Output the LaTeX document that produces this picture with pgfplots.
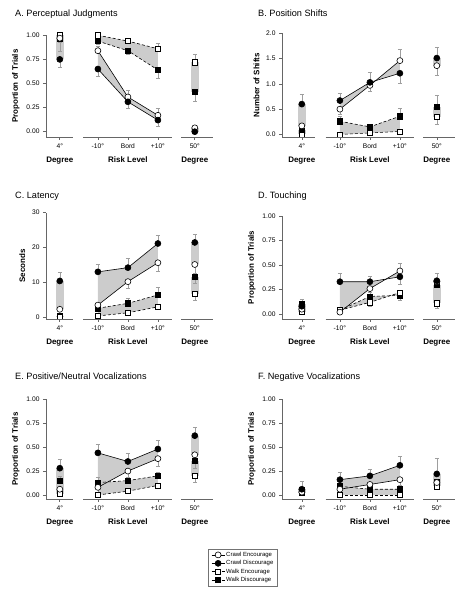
\documentclass[border=0pt]{standalone}
\usepackage{fontspec}
\setmainfont{Liberation Sans}
\usepackage{pgfplots}
\pgfplotsset{compat=1.18}
\definecolor{bandgray}{gray}{0.80}
\definecolor{ebgray}{gray}{0.62}
\definecolor{axgray}{gray}{0.40}
\newcommand\tickfont{\fontsize{6.7}{7.5}\selectfont}
\newcommand\labfont{\fontsize{8}{9}\selectfont\bfseries}
\newcommand\titfont{\fontsize{9.2}{10}\selectfont}
\newcommand\legfont{\fontsize{6}{7}\selectfont}
\pgfplotsset{
 panel/.style={
  scale only axis, clip=false,
  axis lines=left, axis line style={-, axgray, line width=0.8bp},
  x axis line style={draw=none},
  xmin=-0.73, xmax=4.85,
  xtick={-0.27,1,2,3,4.23},
  xticklabels={4°,-10°,Bord,+10°,50°},
  tick align=outside, major tick length=3bp,
  every tick/.style={axgray, line width=0.6bp},
  tick label style={font=\tickfont},
  /pgf/number format/assume math mode=true,
  ylabel style={font=\labfont},
  after end axis/.code={
    \draw[axgray, line width=0.8bp] (rel axis cs:0,0) -- ({axis cs:0.18,0}|-{rel axis cs:0,0});
    \draw[axgray, line width=0.8bp] ({axis cs:0.52,0}|-{rel axis cs:0,0}) -- ({axis cs:3.47,0}|-{rel axis cs:0,0});
    \draw[axgray, line width=0.8bp] ({axis cs:3.78,0}|-{rel axis cs:0,0}) -- (rel axis cs:1,0);
    \node[font=\labfont, anchor=base, inner sep=0] at ({axis cs:-0.27,0}|-{rel axis cs:0,0}) [yshift=-26bp] {Degree};
    \node[font=\labfont, anchor=base, inner sep=0] at ({axis cs:2,0}|-{rel axis cs:0,0}) [yshift=-26bp] {Risk Level};
    \node[font=\labfont, anchor=base, inner sep=0] at ({axis cs:4.23,0}|-{rel axis cs:0,0}) [yshift=-26bp] {Degree};
  },
 },
 panelR/.style={panel, xmin=-0.93},
 band/.style={fill=bandgray, draw=none},
 eb/.style={error bars/y dir=both, error bars/y explicit,
   error bars/error bar style={ebgray, line width=0.5bp, solid},
   error bars/error mark options={ebgray, line width=0.5bp, mark size=2bp, rotate=90, solid}},
 ce/.style={black, line width=0.6bp, solid, mark=*, mark size=3bp, mark options={fill=white, solid, line width=0.6bp}},
 cd/.style={black, line width=0.6bp, solid, mark=*, mark size=3bp, mark options={fill=black, solid, line width=0.6bp}},
 we/.style={black, line width=0.6bp, dash pattern=on 3bp off 2bp, mark=square*, mark size=2.6bp, mark options={fill=white, solid, line width=0.6bp}},
 wd/.style={black, line width=0.6bp, dash pattern=on 3bp off 2bp, mark=square*, mark size=2.6bp, mark options={fill=black, solid, line width=0.6bp}},
}
\begin{document}
\begin{tikzpicture}
\path[use as bounding box] (0,0) rectangle (464bp,599bp);

% ================= A =================
\begin{axis}[panel, at={(46bp,462bp)}, anchor=south west, width=167.4bp, height=101.7bp,
  ymin=-0.055, ymax=1, ytick={0,0.25,0.5,0.75,1},
  yticklabel style={/pgf/number format/.cd, fixed, fixed zerofill, precision=2},
  ylabel={Proportion of Trials}]
\addplot[band] coordinates {(1,0.84) (2,0.36) (3,0.17) (3,0.12) (2,0.31) (1,0.65)};
\addplot[band] coordinates {(1,1.00) (2,0.94) (3,0.86) (3,0.64) (2,0.84) (1,0.94)};
\addplot[band] coordinates {(-0.40,0.75) (-0.14,0.75) (-0.14,0.97) (-0.40,0.97)};
\addplot[band] coordinates {(-0.40,0.96) (-0.14,0.96) (-0.14,1.00) (-0.40,1.00)};
\addplot[band] coordinates {(4.10,0.00) (4.36,0.00) (4.36,0.04) (4.10,0.04)};
\addplot[band] coordinates {(4.10,0.41) (4.36,0.41) (4.36,0.72) (4.10,0.72)};
\addplot[wd, eb] coordinates {(1,0.94) += (0,0) -= (0,0.03) (2,0.84) += (0,0) -= (0,0.04) (3,0.64) += (0,0) -= (0,0.09)};
\addplot[wd, eb, only marks] coordinates {(-0.27,0.96) += (0,0) -= (0,0.03) (4.23,0.41) += (0,0) -= (0,0.09)};
\addplot[we, eb] coordinates {(1,1.00) += (0,0) -= (0,0) (2,0.94) += (0,0.02) -= (0,0) (3,0.86) += (0,0.06) -= (0,0)};
\addplot[we, eb, only marks] coordinates {(-0.27,1.00) += (0,0) -= (0,0) (4.23,0.72) += (0,0.08) -= (0,0)};
\addplot[ce, eb] coordinates {(1,0.84) += (0,0.05) -= (0,0) (2,0.36) += (0,0.07) -= (0,0) (3,0.17) += (0,0.07) -= (0,0)};
\addplot[ce, eb, only marks] coordinates {(-0.27,0.97) += (0,0) -= (0,0.14) (4.23,0.04) += (0,0.03) -= (0,0)};
\addplot[cd, eb] coordinates {(1,0.65) += (0,0) -= (0,0.08) (2,0.31) += (0,0) -= (0,0.07) (3,0.12) += (0,0) -= (0,0.06)};
\addplot[cd, eb, only marks] coordinates {(-0.27,0.75) += (0,0) -= (0,0.08) (4.23,0.00) += (0,0) -= (0,0)};
\end{axis}

% ================= B =================
\begin{axis}[panelR, at={(282bp,462bp)}, anchor=south west, width=173.4bp, height=103.7bp,
  ymin=-0.05, ymax=2, ytick={0,0.5,1,1.5,2},
  yticklabel style={/pgf/number format/.cd, fixed, fixed zerofill, precision=1},
  ylabel={Number of Shifts}]
\addplot[band] coordinates {(1,0.50) (2,0.97) (3,1.46) (3,1.21) (2,1.03) (1,0.67)};
\addplot[band] coordinates {(1,0.00) (2,0.03) (3,0.06) (3,0.36) (2,0.15) (1,0.26)};
\addplot[band] coordinates {(-0.40,0.17) (-0.14,0.17) (-0.14,0.60) (-0.40,0.60)};
\addplot[band] coordinates {(-0.40,0.00) (-0.14,0.00) (-0.14,0.08) (-0.40,0.08)};
\addplot[band] coordinates {(4.10,1.36) (4.36,1.36) (4.36,1.51) (4.10,1.51)};
\addplot[band] coordinates {(4.10,0.35) (4.36,0.35) (4.36,0.54) (4.10,0.54)};
\addplot[wd, eb] coordinates {(1,0.26) += (0,0.10) -= (0,0) (2,0.15) += (0,0.06) -= (0,0) (3,0.36) += (0,0.16) -= (0,0)};
\addplot[wd, eb, only marks] coordinates {(-0.27,0.08) += (0,0.04) -= (0,0) (4.23,0.54) += (0,0.23) -= (0,0)};
\addplot[we, eb] coordinates {(1,0.00) += (0,0) -= (0,0) (2,0.03) += (0,0) -= (0,0) (3,0.06) += (0,0) -= (0,0)};
\addplot[we, eb, only marks] coordinates {(-0.27,0.00) += (0,0) -= (0,0) (4.23,0.35) += (0,0) -= (0,0.15)};
\addplot[ce, eb] coordinates {(1,0.50) += (0,0) -= (0,0.10) (2,0.97) += (0,0) -= (0,0.12) (3,1.46) += (0,0.22) -= (0,0)};
\addplot[ce, eb, only marks] coordinates {(-0.27,0.17) += (0,0) -= (0,0.08) (4.23,1.36) += (0,0) -= (0,0.19)};
\addplot[cd, eb] coordinates {(1,0.67) += (0,0.14) -= (0,0) (2,1.03) += (0,0.20) -= (0,0) (3,1.21) += (0,0) -= (0,0.19)};
\addplot[cd, eb, only marks] coordinates {(-0.27,0.60) += (0,0.20) -= (0,0) (4.23,1.51) += (0,0.21) -= (0,0)};
\end{axis}

% ================= C =================
\begin{axis}[panel, at={(46bp,280bp)}, anchor=south west, width=167.4bp, height=106.3bp,
  ymin=-0.37, ymax=30, ytick={0,10,20,30},
  ylabel={Seconds}]
\addplot[band] coordinates {(1,3.6) (2,10.3) (3,15.7) (3,21.2) (2,14.3) (1,13.1)};
\addplot[band] coordinates {(1,0.5) (2,1.4) (3,3.1) (3,6.5) (2,4.1) (1,2.7)};
\addplot[band] coordinates {(-0.40,2.4) (-0.14,2.4) (-0.14,10.5) (-0.40,10.5)};
\addplot[band] coordinates {(-0.40,0.3) (-0.14,0.3) (-0.14,0.6) (-0.40,0.6)};
\addplot[band] coordinates {(4.10,15.2) (4.36,15.2) (4.36,21.5) (4.10,21.5)};
\addplot[band] coordinates {(4.10,6.8) (4.36,6.8) (4.36,11.7) (4.10,11.7)};
\addplot[wd, eb] coordinates {(1,2.7) += (0,1.0) -= (0,0) (2,4.1) += (0,1.5) -= (0,0) (3,6.5) += (0,2.1) -= (0,0)};
\addplot[wd, eb, only marks] coordinates {(-0.27,0.6) += (0,0) -= (0,0) (4.23,11.7) += (0,0) -= (0,2.0)};
\addplot[we, eb] coordinates {(1,0.5) += (0,0) -= (0,0) (2,1.4) += (0,0) -= (0,0) (3,3.1) += (0,0) -= (0,0.6)};
\addplot[we, eb, only marks] coordinates {(-0.27,0.3) += (0,0) -= (0,0) (4.23,6.8) += (0,0) -= (0,1.8)};
\addplot[ce, eb] coordinates {(1,3.6) += (0,0) -= (0,0.8) (2,10.3) += (0,0) -= (0,1.9) (3,15.7) += (0,0) -= (0,2.3)};
\addplot[ce, eb, only marks] coordinates {(-0.27,2.4) += (0,0) -= (0,0) (4.23,15.2) += (0,0) -= (0,2.5)};
\addplot[cd, eb] coordinates {(1,13.1) += (0,2.3) -= (0,0) (2,14.3) += (0,2.6) -= (0,0) (3,21.2) += (0,2.3) -= (0,0)};
\addplot[cd, eb, only marks] coordinates {(-0.27,10.5) += (0,2.6) -= (0,0) (4.23,21.5) += (0,2.2) -= (0,0)};
\end{axis}

% ================= D =================
\begin{axis}[panelR, at={(282bp,280bp)}, anchor=south west, width=173.4bp, height=103bp,
  ymin=-0.05, ymax=1, ytick={0,0.25,0.5,0.75,1},
  yticklabel style={/pgf/number format/.cd, fixed, fixed zerofill, precision=2},
  ylabel={Proportion of Trials}]
\addplot[band] coordinates {(1,0.02) (2,0.26) (3,0.44) (3,0.38) (2,0.33) (1,0.33)};
\addplot[band] coordinates {(1,0.04) (2,0.12) (3,0.22) (3,0.19) (2,0.18) (1,0.04)};
\addplot[band] coordinates {(-0.40,0.05) (-0.14,0.05) (-0.14,0.08) (-0.40,0.08)};
\addplot[band] coordinates {(-0.40,0.02) (-0.14,0.02) (-0.14,0.10) (-0.40,0.10)};
\addplot[band] coordinates {(4.10,0.33) (4.36,0.33) (4.36,0.34) (4.10,0.34)};
\addplot[band] coordinates {(4.10,0.11) (4.36,0.11) (4.36,0.30) (4.10,0.30)};
\addplot[wd, eb] coordinates {(1,0.04) += (0,0) -= (0,0) (2,0.18) += (0,0.04) -= (0,0) (3,0.19) += (0,0) -= (0,0.05)};
\addplot[wd, eb, only marks] coordinates {(-0.27,0.10) += (0,0.05) -= (0,0) (4.23,0.30) += (0,0) -= (0,0)};
\addplot[we, eb] coordinates {(1,0.04) += (0,0) -= (0,0) (2,0.12) += (0,0) -= (0,0.04) (3,0.22) += (0,0) -= (0,0)};
\addplot[we, eb, only marks] coordinates {(-0.27,0.02) += (0,0) -= (0,0) (4.23,0.11) += (0,0) -= (0,0.05)};
\addplot[ce, eb] coordinates {(1,0.02) += (0,0) -= (0,0) (2,0.26) += (0,0) -= (0,0.08) (3,0.44) += (0,0.08) -= (0,0)};
\addplot[ce, eb, only marks] coordinates {(-0.27,0.05) += (0,0) -= (0,0) (4.23,0.33) += (0,0) -= (0,0)};
\addplot[cd, eb] coordinates {(1,0.33) += (0,0.09) -= (0,0) (2,0.33) += (0,0.06) -= (0,0) (3,0.38) += (0,0) -= (0,0.08)};
\addplot[cd, eb, only marks] coordinates {(-0.27,0.08) += (0,0) -= (0,0) (4.23,0.34) += (0,0.08) -= (0,0)};
\end{axis}

% ================= E =================
\begin{axis}[panel, at={(46bp,100bp)}, anchor=south west, width=167.4bp, height=99.7bp,
  ymin=-0.042, ymax=1, ytick={0,0.25,0.5,0.75,1},
  yticklabel style={/pgf/number format/.cd, fixed, fixed zerofill, precision=2},
  ylabel={Proportion of Trials}]
\addplot[band] coordinates {(1,0.08) (2,0.25) (3,0.38) (3,0.48) (2,0.35) (1,0.44)};
\addplot[band] coordinates {(1,0.00) (2,0.04) (3,0.10) (3,0.20) (2,0.15) (1,0.13)};
\addplot[band] coordinates {(-0.40,0.06) (-0.14,0.06) (-0.14,0.28) (-0.40,0.28)};
\addplot[band] coordinates {(-0.40,0.01) (-0.14,0.01) (-0.14,0.15) (-0.40,0.15)};
\addplot[band] coordinates {(4.10,0.42) (4.36,0.42) (4.36,0.62) (4.10,0.62)};
\addplot[band] coordinates {(4.10,0.20) (4.36,0.20) (4.36,0.36) (4.10,0.36)};
\addplot[wd, eb] coordinates {(1,0.13) += (0,0.06) -= (0,0) (2,0.15) += (0,0.04) -= (0,0) (3,0.20) += (0,0.04) -= (0,0)};
\addplot[wd, eb, only marks] coordinates {(-0.27,0.15) += (0,0.05) -= (0,0) (4.23,0.36) += (0,0) -= (0,0.08)};
\addplot[we, eb] coordinates {(1,0.00) += (0,0) -= (0,0) (2,0.04) += (0,0) -= (0,0) (3,0.10) += (0,0) -= (0,0.03)};
\addplot[we, eb, only marks] coordinates {(-0.27,0.01) += (0,0) -= (0,0) (4.23,0.20) += (0,0) -= (0,0.07)};
\addplot[ce, eb] coordinates {(1,0.08) += (0,0) -= (0,0.06) (2,0.25) += (0,0) -= (0,0.06) (3,0.38) += (0,0) -= (0,0.08)};
\addplot[ce, eb, only marks] coordinates {(-0.27,0.06) += (0,0) -= (0,0.03) (4.23,0.42) += (0,0) -= (0,0.08)};
\addplot[cd, eb] coordinates {(1,0.44) += (0,0.09) -= (0,0) (2,0.35) += (0,0.09) -= (0,0) (3,0.48) += (0,0.09) -= (0,0)};
\addplot[cd, eb, only marks] coordinates {(-0.27,0.28) += (0,0.09) -= (0,0) (4.23,0.62) += (0,0.09) -= (0,0)};
\end{axis}

% ================= F =================
\begin{axis}[panelR, at={(282bp,100bp)}, anchor=south west, width=173.4bp, height=99.7bp,
  ymin=-0.042, ymax=1, ytick={0,0.25,0.5,0.75,1},
  yticklabel style={/pgf/number format/.cd, fixed, fixed zerofill, precision=2},
  ylabel={Proportion of Trials}]
\addplot[band] coordinates {(1,0.06) (2,0.11) (3,0.16) (3,0.31) (2,0.20) (1,0.16)};
\addplot[band] coordinates {(1,0.00) (2,0.00) (3,0.00) (3,0.06) (2,0.06) (1,0.09)};
\addplot[band] coordinates {(-0.40,0.03) (-0.14,0.03) (-0.14,0.06) (-0.40,0.06)};
\addplot[band] coordinates {(-0.40,0.02) (-0.14,0.02) (-0.14,0.05) (-0.40,0.05)};
\addplot[band] coordinates {(4.10,0.13) (4.36,0.13) (4.36,0.22) (4.10,0.22)};
\addplot[band] coordinates {(4.10,0.09) (4.36,0.09) (4.36,0.14) (4.10,0.14)};
\addplot[wd, eb] coordinates {(1,0.09) += (0,0) -= (0,0) (2,0.06) += (0,0) -= (0,0) (3,0.06) += (0,0) -= (0,0)};
\addplot[wd, eb, only marks] coordinates {(-0.27,0.05) += (0,0) -= (0,0) (4.23,0.14) += (0,0) -= (0,0)};
\addplot[we, eb] coordinates {(1,0.00) += (0,0) -= (0,0) (2,0.00) += (0,0) -= (0,0) (3,0.00) += (0,0) -= (0,0)};
\addplot[we, eb, only marks] coordinates {(-0.27,0.02) += (0,0) -= (0,0) (4.23,0.09) += (0,0) -= (0,0.03)};
\addplot[ce, eb] coordinates {(1,0.06) += (0,0) -= (0,0.03) (2,0.11) += (0,0) -= (0,0.03) (3,0.16) += (0,0) -= (0,0.06)};
\addplot[ce, eb, only marks] coordinates {(-0.27,0.03) += (0,0) -= (0,0) (4.23,0.13) += (0,0) -= (0,0)};
\addplot[cd, eb] coordinates {(1,0.16) += (0,0.08) -= (0,0) (2,0.20) += (0,0.07) -= (0,0) (3,0.31) += (0,0.10) -= (0,0)};
\addplot[cd, eb, only marks] coordinates {(-0.27,0.06) += (0,0.08) -= (0,0) (4.23,0.22) += (0,0.16) -= (0,0)};
\end{axis}

% ================= Legend =================
\begin{axis}[hide axis, scale only axis, width=1bp, height=1bp, at={(243bp,50bp)}, anchor=center,
  xmin=0, xmax=1, ymin=0, ymax=1,
  legend cell align=left,
  legend style={at={(0.5,0.5)}, anchor=north, draw=black!55, line width=0.4bp,
    font=\legfont, inner xsep=3bp, inner ysep=1.5bp, row sep=0bp,
    nodes={inner sep=1.3bp},
    /tikz/every even column/.append style={column sep=5bp}},
  legend image code/.code={\draw[mark repeat=2, mark phase=2] plot coordinates {(0bp,0bp) (6.5bp,0bp) (13bp,0bp)};}]
\addlegendimage{ce}\addlegendentry{Crawl Encourage}
\addlegendimage{cd}\addlegendentry{Crawl Discourage}
\addlegendimage{we}\addlegendentry{Walk Encourage}
\addlegendimage{wd}\addlegendentry{Walk Discourage}
\end{axis}

% ================= Titles =================
\node[anchor=base west, font=\titfont, inner sep=0] at (15bp,582.7bp) {A. Perceptual Judgments};
\node[anchor=base west, font=\titfont, inner sep=0] at (258bp,582.7bp) {B. Position Shifts};
\node[anchor=base west, font=\titfont, inner sep=0] at (15bp,400.7bp) {C. Latency};
\node[anchor=base west, font=\titfont, inner sep=0] at (258bp,400.7bp) {D. Touching};
\node[anchor=base west, font=\titfont, inner sep=0] at (15bp,219.7bp) {E. Positive/Neutral Vocalizations};
\node[anchor=base west, font=\titfont, inner sep=0] at (258bp,219.7bp) {F. Negative Vocalizations};
\end{tikzpicture}
\end{document}
